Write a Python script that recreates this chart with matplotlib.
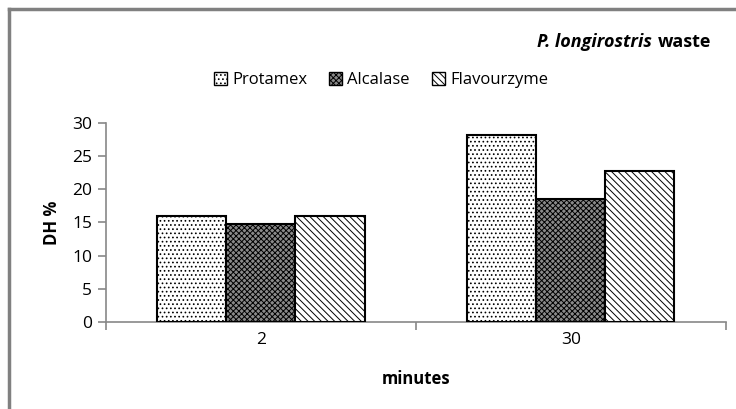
import numpy as np
import matplotlib
matplotlib.use('Agg')
import matplotlib.pyplot as plt
from matplotlib.patches import Patch
from matplotlib.lines import Line2D

plt.rcParams['font.family'] = ['Open Sans', 'DejaVu Sans']
plt.rcParams['hatch.linewidth'] = 0.7

categories = ['2', '30']
enzymes = ['Protamex', 'Alcalase', 'Flavourzyme']
protamex = [16.0, 28.2]
alcalase = [14.8, 18.6]
flavourzyme = [16.0, 22.7]
series = [protamex, alcalase, flavourzyme]
yticks = [0, 5, 10, 15, 20, 25, 30]

faces = ['white', '#8a8a8a', 'white']
hatches = ['....', 'xxxxxx', '\\\\\\\\\\']

fig = plt.figure(figsize=(7.36, 4.09), dpi=100)
ax = fig.add_axes([0.144, 0.2127, 0.842, 0.4866])

x = np.arange(len(categories))
w = 0.223
for i, vals in enumerate(series):
    ax.bar(x + (i - 1) * w, vals, width=w, facecolor=faces[i],
           edgecolor='black', hatch=hatches[i], linewidth=1.5,
           label=enzymes[i], zorder=3)

ax.set_xlim(-0.5, 1.5)
ax.set_ylim(0, 30)
ax.set_yticks(yticks)
ax.set_xticks(x)
ax.set_xticklabels(categories)
# tick marks on category boundaries
ax.set_xticks([-0.5, 0.5, 1.5], minor=True)
ax.tick_params(axis='x', which='major', length=0, pad=7, labelsize=12.5)
ax.tick_params(axis='x', which='minor', length=6, color='#888888', width=1.2, direction='out')
ax.tick_params(axis='y', length=6, color='#888888', width=1.2, labelsize=12.5, pad=4)
for s in ['top', 'right']:
    ax.spines[s].set_visible(False)
for s in ['left', 'bottom']:
    ax.spines[s].set_color('#888888')
    ax.spines[s].set_linewidth(1.2)

ax.set_ylabel('DH %', fontweight='bold', fontsize=12, labelpad=8)
ax.set_xlabel('minutes', fontweight='bold', fontsize=12, labelpad=16)

# outer frame (top and left edges only, image is cropped)
fig.add_artist(Line2D([8.5 / 736, 8.5 / 736], [0, 1 - 9 / 409], color='#808080', lw=2.5))
fig.add_artist(Line2D([8.5 / 736, 1], [1 - 9 / 409, 1 - 9 / 409], color='#808080', lw=2.5))

# title: italic species name + "waste"
t2 = fig.text(711 / 736, 1 - 42 / 409, 'waste', ha='right', va='center',
              fontweight='bold', fontsize=13)
renderer = fig.canvas.get_renderer()
bb = t2.get_window_extent(renderer)
fig.text((bb.x0 - 6) / 736, 1 - 42 / 409, 'P. longirostris', ha='right', va='center',
         fontweight='bold', fontstyle='italic', fontsize=13)

handles = [Patch(facecolor=faces[i], edgecolor='black', hatch=hatches[i], label=enzymes[i])
           for i in range(3)]
fig.legend(handles=handles, loc='center', bbox_to_anchor=(381 / 736, 1 - 80 / 409),
           ncol=3, frameon=False, fontsize=12, handlelength=0.8, handleheight=0.8,
           handletextpad=0.3, columnspacing=1.3)

fig.savefig('out.png', dpi=100)
